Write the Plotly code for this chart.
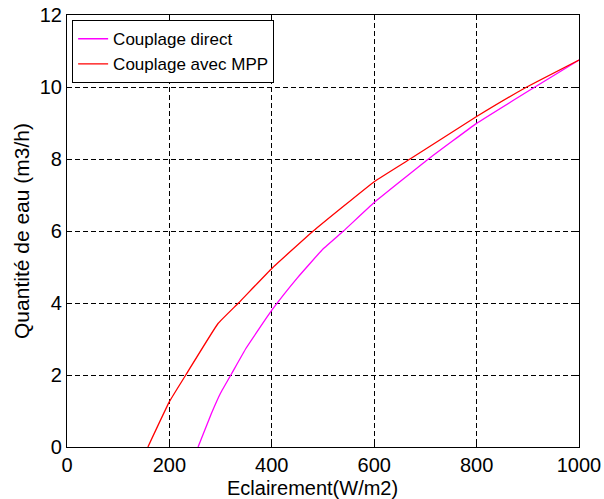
import plotly.graph_objects as go

# Data
x_direct = [256, 282, 300, 322, 350, 400, 450, 500, 540, 600, 706, 800, 914, 1000]
y_direct = [0, 0.93, 1.5, 2.05, 2.75, 3.8, 4.7, 5.5, 6, 6.79, 8, 8.99, 10, 10.75]

x_mpp = [158, 200, 232, 295, 335, 400, 481, 600, 670, 800, 898, 1000]
y_mpp = [0, 1.26, 2, 3.43, 4, 4.96, 6, 7.37, 8, 9.18, 10, 10.75]

x_ticks = [0, 200, 400, 600, 800, 1000]
y_ticks = [0, 2, 4, 6, 8, 10, 12]

FONT = "Liberation Sans, Arial, sans-serif"

fig = go.Figure()
fig.add_trace(go.Scatter(x=x_direct, y=y_direct, mode="lines", name="Couplage direct",
                         line=dict(color="#ff00ff", width=1.3, shape="spline", smoothing=0.3)))
fig.add_trace(go.Scatter(x=x_mpp, y=y_mpp, mode="lines", name="Couplage avec MPP",
                         line=dict(color="#ff0000", width=1.3, shape="spline", smoothing=0.3)))

axis_common = dict(
    showline=True, linecolor="black", linewidth=1.2, mirror="ticks",
    ticks="inside", ticklen=5, tickcolor="black",
    showgrid=True, gridcolor="black", gridwidth=1.3, griddash="5px,3px",
    zeroline=False, automargin=False,
    tickfont=dict(family=FONT, size=20, color="black"),
)

fig.update_layout(
    width=604, height=499,
    margin=dict(l=67, r=25, t=15, b=52),
    paper_bgcolor="white", plot_bgcolor="white",
    showlegend=True,
    legend=dict(x=0.01, y=0.988, xanchor="left", yanchor="top",
                bgcolor="white", bordercolor="black", borderwidth=1,
                font=dict(family=FONT, size=17, color="black"),
                tracegroupgap=0, itemwidth=30),
    xaxis=dict(range=[0, 1000], tickvals=x_ticks, **axis_common),
    yaxis=dict(range=[0, 12], tickvals=y_ticks, **axis_common,
               title=dict(text="Quantité de eau (m3/h)", standoff=4,
                          font=dict(family=FONT, size=21, color="black"))),
    annotations=[dict(text="Eclairement(W/m2)", xref="paper", yref="paper",
                      x=0.48, y=-0.0945, xanchor="center", yanchor="middle",
                      showarrow=False, font=dict(family=FONT, size=20, color="black"))],
)

fig.write_html("out.html")
